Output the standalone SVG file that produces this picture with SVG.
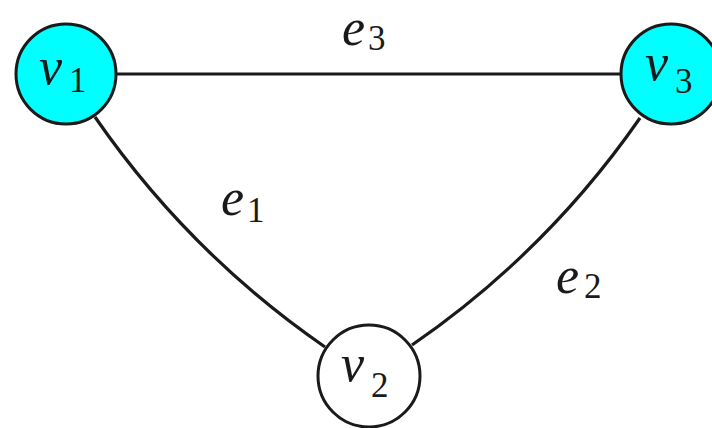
<svg xmlns="http://www.w3.org/2000/svg" width="712" height="428" viewBox="0 0 712 428">
<style>
.edge{fill:none;stroke:#1a1a1a;stroke-width:3.2}
.node{stroke:#1a1a1a;stroke-width:3}
.sel{fill:#00ffff}
.plain{fill:#ffffff}
text{fill:#1a1a1a;font-family:"Liberation Serif",serif}
.l{font-style:italic;font-size:52px}
.s{font-size:35px}
</style>
<rect width="712" height="428" fill="#ffffff"/>
<g id="edges">
<line class="edge" x1="110" y1="74" x2="628" y2="74"/>
<path class="edge" d="M95,117 Q189,253 325,347"/>
<path class="edge" d="M640,118 Q547,252 412,345"/>
<text class="l" x="342" y="45">e</text><text class="s" x="368" y="50">3</text>
<text class="l" x="221" y="215">e</text><text class="s" x="247" y="222">1</text>
<text class="l" x="556" y="293">e</text><text class="s" x="584" y="298">2</text>
</g>
<g id="v1">
<circle class="node sel" cx="66" cy="74" r="50"/>
<text class="l" x="39" y="84">v</text><text class="s" x="69" y="92">1</text>
</g>
<g id="v3">
<circle class="node sel" cx="671" cy="74" r="50"/>
<text class="l" x="645" y="80">v</text><text class="s" x="675" y="93">3</text>
</g>
<g id="v2">
<circle class="node plain" cx="369" cy="376" r="51"/>
<text class="l" x="341" y="381">v</text><text class="s" x="371" y="397">2</text>
</g>
</svg>
